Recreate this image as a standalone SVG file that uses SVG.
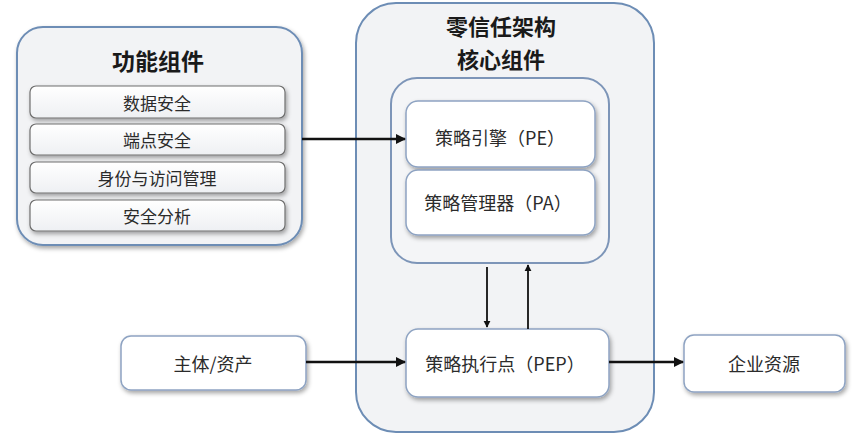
<svg xmlns="http://www.w3.org/2000/svg" width="864" height="440" viewBox="0 0 864 440">
  <defs>
    <filter id="shadow" x="-10%" y="-10%" width="125%" height="135%">
      <feDropShadow dx="1.5" dy="2.5" stdDeviation="2" flood-color="#000" flood-opacity="0.35"/>
    </filter>
    <linearGradient id="item" x1="0" y1="0" x2="0" y2="1">
      <stop offset="0" stop-color="#ffffff"/>
      <stop offset="1" stop-color="#eef0f3"/>
    </linearGradient>
    <marker id="arrow" viewBox="0 0 10 10" refX="9" refY="5" markerWidth="4" markerHeight="4" orient="auto-start-reverse">
      <path d="M0,0 L10,5 L0,10 z" fill="#111"/>
    </marker>
  </defs>
  <style>
    text { font-family: "Noto Sans CJK SC", "Liberation Sans", sans-serif; fill: #2b2b2b; text-anchor: middle; dominant-baseline: central; }
    .title { font-weight: bold; font-size: 23px; fill: #1a1a1a; }
    .title2 { font-weight: bold; font-size: 22px; fill: #1a1a1a; }
    .lbl { font-size: 17px; }
    .lbl2 { font-size: 18px; }
    .big { fill: #f2f3f5; stroke: #6d8db5; stroke-width: 2; }
    .inner { fill: #f4f5f7; stroke: #7d95b8; stroke-width: 2; }
    .item { fill: url(#item); stroke: #6e6e6e; stroke-width: 1.2; filter: url(#shadow); }
    .node { fill: #ffffff; stroke: #8ea3c2; stroke-width: 1.5; filter: url(#shadow); }
    .conn { stroke: #111; stroke-width: 2.5; fill: none; marker-end: url(#arrow); }
    .thin { stroke: #111; stroke-width: 1.8; fill: none; marker-end: url(#arrow); }
  </style>

  <rect x="0" y="0" width="864" height="440" fill="#ffffff"/>

  <!-- functional components -->
  <g id="functional">
    <rect class="big" x="17" y="27" width="285" height="218" rx="26" filter="url(#shadow)"/>
    <text class="title" x="158" y="60">功能组件</text>
    <g id="data-security">
      <rect class="item" x="30" y="86" width="255" height="32" rx="6"/>
      <text class="lbl" x="157" y="102">数据安全</text>
    </g>
    <g id="endpoint-security">
      <rect class="item" x="30" y="124" width="255" height="31" rx="6"/>
      <text class="lbl" x="157" y="139.5">端点安全</text>
    </g>
    <g id="iam">
      <rect class="item" x="30" y="162" width="255" height="31" rx="6"/>
      <text class="lbl" x="157" y="177.5">身份与访问管理</text>
    </g>
    <g id="analytics">
      <rect class="item" x="30" y="200" width="255" height="31" rx="6"/>
      <text class="lbl" x="157" y="215.5">安全分析</text>
    </g>
  </g>

  <!-- zero trust core components -->
  <g id="core">
    <rect class="big" x="356" y="3" width="298" height="429" rx="40"/>
    <text class="title2" x="501" y="25">零信任架构</text>
    <text class="title2" x="501" y="57.5">核心组件</text>
    <rect class="inner" x="391" y="78" width="218" height="185" rx="26"/>
  </g>

  <g id="pe">
    <rect class="node" x="406" y="101" width="189" height="66" rx="12"/>
    <text class="lbl2" x="500" y="137">策略引擎（PE）</text>
  </g>
  <g id="pa">
    <rect class="node" x="406" y="170" width="189" height="65" rx="12"/>
    <text class="lbl2" x="498" y="202">策略管理器（PA）</text>
  </g>
  <g id="pep">
    <rect class="node" x="406" y="329" width="203" height="68" rx="12"/>
    <text class="lbl2" x="505" y="363">策略执行点（PEP）</text>
  </g>

  <g id="subject">
    <rect class="node" x="121" y="336" width="185" height="54" rx="10"/>
    <text class="lbl2" x="213" y="363">主体/资产</text>
  </g>
  <g id="resource">
    <rect class="node" x="684" y="335" width="161" height="57" rx="10"/>
    <text class="lbl2" x="764" y="363">企业资源</text>
  </g>

  <!-- connectors -->
  <g id="connectors">
    <line class="conn" x1="302" y1="139" x2="405" y2="139"/>
    <line class="thin" x1="487" y1="267" x2="487" y2="327"/>
    <line class="thin" x1="528" y1="329" x2="528" y2="265"/>
    <line class="conn" x1="306" y1="362" x2="405" y2="362"/>
    <line class="conn" x1="609" y1="362" x2="683" y2="362"/>
  </g>
</svg>
